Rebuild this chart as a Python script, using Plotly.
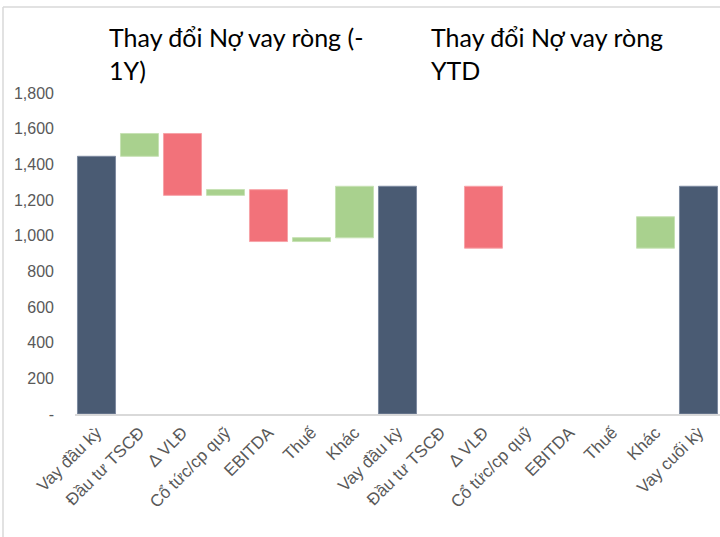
import plotly.graph_objects as go

categories = ["Vay đầu kỳ", "Đầu tư TSCĐ", "Δ VLĐ", "Cổ tức/cp quỹ", "EBITDA", "Thuế", "Khác",
              "Vay đầu kỳ", "Đầu tư TSCĐ", "Δ VLĐ", "Cổ tức/cp quỹ", "EBITDA", "Thuế", "Khác",
              "Vay cuối kỳ"]
bar_low = [0, 1445, 1226, 1226, 967, 967, 988, 0, 0, 930, 0, 0, 0, 930, 0]
bar_high = [1445, 1573, 1573, 1259, 1258, 989, 1277, 1277, 0, 1277, 0, 0, 0, 1106, 1277]
bar_kind = ["total", "up", "down", "up", "down", "up", "up", "total", "none", "down",
            "none", "none", "none", "up", "total"]
y_ticks = [0, 200, 400, 600, 800, 1000, 1200, 1400, 1600, 1800]
y_ticktext = ["-", "200", "400", "600", "800", "1,000", "1,200", "1,400", "1,600", "1,800"]
titles = ["Thay đổi Nợ vay ròng (-<br>1Y)", "Thay đổi Nợ vay ròng<br>YTD"]

colors = {"total": "#4a5b73", "up": "#a9d18e", "down": "#f2727a", "none": "rgba(0,0,0,0)"}
edge = {"total": "#7d8aa0", "up": "#c7e2b4", "down": "#f7a3a8", "none": "rgba(0,0,0,0)"}

xs = list(range(len(categories)))
fig = go.Figure(go.Bar(
    x=xs,
    y=[h - l for h, l in zip(bar_high, bar_low)],
    base=bar_low,
    marker=dict(color=[colors[k] for k in bar_kind],
                line=dict(color=[edge[k] for k in bar_kind], width=1)),
    width=0.885,
    hoverinfo="skip",
))

W, H = 720, 537
ml, mr, mt, mb = 75, 0, 93, 123
pw, ph = W - ml - mr, H - mt - mb

def px_x(p):
    return (p - ml) / pw

def px_y(p):
    return (H - mb - p) / ph

shapes = [
    dict(type="line", xref="paper", yref="paper", x0=px_x(3), x1=px_x(3), y0=px_y(7), y1=px_y(537),
         line=dict(color="#d9d9d9", width=1.5)),
    dict(type="line", xref="paper", yref="paper", x0=px_x(3), x1=px_x(720), y0=px_y(7), y1=px_y(7),
         line=dict(color="#d9d9d9", width=1.5)),
]

annotations = [
    dict(text=titles[0], xref="paper", yref="paper", x=px_x(107), y=px_y(20), xanchor="left", yanchor="top",
         align="left", showarrow=False, font=dict(family="Lato", size=25, color="#000000")),
    dict(text=titles[1], xref="paper", yref="paper", x=px_x(429), y=px_y(20), xanchor="left", yanchor="top",
         align="left", showarrow=False, font=dict(family="Lato", size=25, color="#000000")),
]

fig.update_layout(
    width=W, height=H,
    margin=dict(l=ml, r=mr, t=mt, b=mb, pad=0),
    paper_bgcolor="white", plot_bgcolor="white",
    showlegend=False,
    shapes=shapes,
    annotations=annotations,
    xaxis=dict(range=[-0.5, len(categories) - 0.5], tickvals=xs, ticktext=categories, tickangle=-45,
               showgrid=False, zeroline=False, showline=True, linecolor="#d9d9d9", linewidth=2,
               ticks="", tickfont=dict(family="Liberation Sans", size=17, color="#595959")),
    yaxis=dict(range=[0, 1800], tickvals=y_ticks, ticktext=y_ticktext, showgrid=False, zeroline=False,
               showline=False, ticks="", ticklabelstandoff=20,
               tickfont=dict(family="Liberation Sans", size=16, color="#595959")),
)

fig.write_html("out.html", config={"displayModeBar": False},
               post_script="document.body.style.margin='0';")
